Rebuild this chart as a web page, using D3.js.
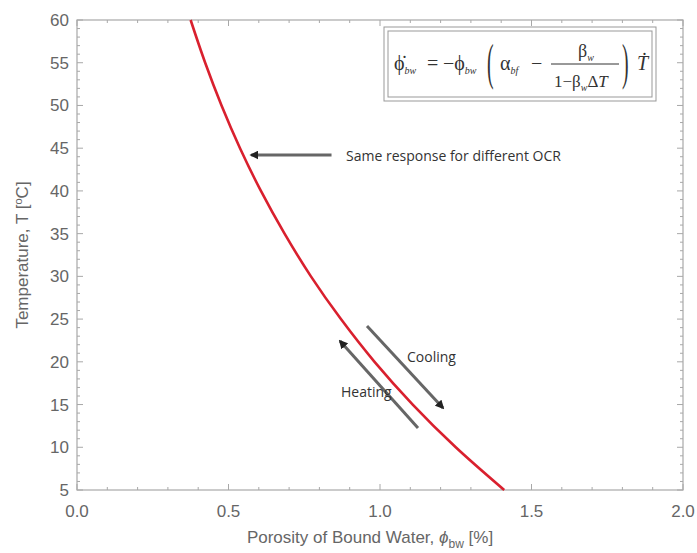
<!DOCTYPE html>
<html>
<head>
<meta charset="utf-8">
<script src="https://cdn.jsdelivr.net/npm/d3@7"></script>
<style>
  html, body { margin: 0; padding: 0; background: #fff; }
  svg { display: block; }
</style>
</head>
<body>
<svg id="chart" width="697" height="553"></svg>
<script>
// Bound-water porosity response to temperature
const temperature = [5, 10, 15, 20, 25, 30, 35, 40, 45, 50, 55, 60];
const porosity    = [1.41, 1.25, 1.108, 0.982, 0.871, 0.772, 0.685, 0.607, 0.538, 0.477, 0.423, 0.375];

const xTicks = [0, 0.5, 1.0, 1.5, 2.0];
const yTicks = [5, 10, 15, 20, 25, 30, 35, 40, 45, 50, 55, 60];

const svg = d3.select("#chart");
const margin = { left: 77, right: 14, top: 20, bottom: 63 };
const W = 697, H = 553;

const x = d3.scaleLinear().domain([0, 2]).range([margin.left, W - margin.right]);
const y = d3.scaleLinear().domain([5, 60]).range([H - margin.bottom, margin.top]);

const frameColor = "#a8a8a8";
const labelColor = "#666";
const font = "'Liberation Sans', Arial, sans-serif";

// frame
svg.append("rect")
  .attr("x", x(0)).attr("y", y(60))
  .attr("width", x(2) - x(0)).attr("height", y(5) - y(60))
  .attr("fill", "none").attr("stroke", frameColor).attr("stroke-width", 1.2);

// inward ticks on all four sides
const minorX = d3.range(0, 2.0001, 0.1);
const minorY = d3.range(5, 60.0001, 1);
const tickG = svg.append("g").attr("stroke", frameColor).attr("stroke-width", 1);
minorX.forEach(v => {
  const major = xTicks.some(t => Math.abs(t - v) < 1e-6);
  const len = major ? 6 : 3;
  tickG.append("line").attr("x1", x(v)).attr("x2", x(v)).attr("y1", y(5)).attr("y2", y(5) - len);
  tickG.append("line").attr("x1", x(v)).attr("x2", x(v)).attr("y1", y(60)).attr("y2", y(60) + len);
});
minorY.forEach(v => {
  const r = Math.round(v);
  const major = Math.abs(v - r) < 1e-6 && r % 5 === 0;
  const len = major ? 6 : 3;
  tickG.append("line").attr("y1", y(v)).attr("y2", y(v)).attr("x1", x(0)).attr("x2", x(0) + len);
  tickG.append("line").attr("y1", y(v)).attr("y2", y(v)).attr("x1", x(2)).attr("x2", x(2) - len);
});

// tick labels
svg.append("g").selectAll("text").data(xTicks).join("text")
  .attr("x", d => x(d)).attr("y", y(5) + 27)
  .attr("text-anchor", "middle")
  .attr("font-family", font).attr("font-size", 17).attr("fill", labelColor)
  .text(d => d.toFixed(1));

svg.append("g").selectAll("text").data(yTicks).join("text")
  .attr("x", x(0) - 8).attr("y", d => y(d) + 6)
  .attr("text-anchor", "end")
  .attr("font-family", font).attr("font-size", 17).attr("fill", labelColor)
  .text(d => d);

// axis titles
const xt = svg.append("text")
  .attr("x", (x(0) + x(2)) / 2 - 10).attr("y", 543)
  .attr("text-anchor", "middle")
  .attr("font-family", font).attr("font-size", 17).attr("fill", labelColor);
xt.append("tspan").text("Porosity of Bound Water, ");
xt.append("tspan").attr("font-style", "italic").text("ϕ");
xt.append("tspan").attr("font-size", 12).attr("dy", 5).text("bw");
xt.append("tspan").attr("dy", -5).text(" [%]");

const yt = svg.append("text")
  .attr("transform", `translate(28, ${(y(5) + y(60)) / 2}) rotate(-90)`)
  .attr("text-anchor", "middle")
  .attr("font-family", font).attr("font-size", 17).attr("fill", labelColor);
yt.append("tspan").text("Temperature, T [");
yt.append("tspan").attr("font-size", 11).attr("dy", -6).text("o");
yt.append("tspan").attr("dy", 6).text("C]");

// response curve
const pts = temperature.map((t, i) => ({ t, p: porosity[i] }));
svg.append("path")
  .datum(pts)
  .attr("fill", "none")
  .attr("stroke", "#d9202e")
  .attr("stroke-width", 2.6)
  .attr("d", d3.line().x(d => x(d.p)).y(d => y(d.t)).curve(d3.curveCatmullRom));

// arrow markers
const defs = svg.append("defs");
defs.append("marker")
  .attr("id", "head").attr("viewBox", "0 0 10 10")
  .attr("refX", 8).attr("refY", 5)
  .attr("markerWidth", 3).attr("markerHeight", 3)
  .attr("orient", "auto")
  .append("path").attr("d", "M0,0 L10,5 L0,10 z").attr("fill", "#222");

function arrow(x1, y1, x2, y2) {
  svg.append("line")
    .attr("x1", x1).attr("y1", y1).attr("x2", x2).attr("y2", y2)
    .attr("stroke", "#666").attr("stroke-width", 3)
    .attr("marker-end", "url(#head)");
}

const noteFont = "'Open Sans', Lato, sans-serif";

// annotation: same response
arrow(x(0.84), y(44.2), x(0.575), y(44.2));
svg.append("text")
  .attr("x", 346).attr("y", 161)
  .attr("font-family", noteFont).attr("font-size", 14).attr("fill", "#333")
  .text("Same response for different OCR");

// cooling / heating arrows
arrow(367, 326, 443, 408);
arrow(418, 428, 340, 341);
svg.append("text")
  .attr("x", 407).attr("y", 362)
  .attr("font-family", noteFont).attr("font-size", 14).attr("fill", "#333")
  .text("Cooling");
svg.append("text")
  .attr("x", 341).attr("y", 397)
  .attr("font-family", noteFont).attr("font-size", 14).attr("fill", "#333")
  .text("Heating");

// governing relation in a double-ruled box
const bx = 384, by = 27, bw = 272, bh = 74;
svg.append("rect").attr("x", bx).attr("y", by).attr("width", bw).attr("height", bh)
  .attr("fill", "#fff").attr("stroke", "#999").attr("stroke-width", 1);
svg.append("rect").attr("x", bx + 4).attr("y", by + 4).attr("width", bw - 8).attr("height", bh - 8)
  .attr("fill", "none").attr("stroke", "#999").attr("stroke-width", 1);

const serif = "'Liberation Serif', 'DejaVu Serif', serif";
const eq = svg.append("g").attr("font-family", serif).attr("fill", "#333");
const midY = by + bh / 2 + 6;

function sym(xp, yp, main, sub, size) {
  const t = eq.append("text").attr("x", xp).attr("y", yp).attr("font-size", size || 20);
  t.append("tspan").text(main);
  if (sub) t.append("tspan").attr("font-size", 10).attr("dy", 4).attr("font-style", "italic").text(sub);
  return t;
}

function paren(xp, ch) {
  eq.append("text")
    .attr("transform", `translate(${xp}, ${midY + 9}) scale(0.9, 2.3)`)
    .attr("font-size", 22).attr("font-weight", 300).text(ch);
}

sym(394, midY, "ϕ̇", "bw");
eq.append("text").attr("x", 427).attr("y", midY).attr("font-size", 20).text("=");
sym(443, midY, "−ϕ", "bw");
paren(487, "(");
sym(500, midY, "α", "bf");
eq.append("text").attr("x", 531).attr("y", midY).attr("font-size", 20).text("−");
// fraction
eq.append("line").attr("x1", 551).attr("x2", 619).attr("y1", midY - 6).attr("y2", midY - 6)
  .attr("stroke", "#333").attr("stroke-width", 1);
sym(578, midY - 13, "β", "w", 18);
const den = eq.append("text").attr("x", 554).attr("y", midY + 17).attr("font-size", 17);
den.append("tspan").text("1−β");
den.append("tspan").attr("font-size", 10).attr("dy", 4).attr("font-style", "italic").text("w");
den.append("tspan").attr("dy", -4).text("Δ");
den.append("tspan").attr("font-style", "italic").text("T");
paren(622, ")");
eq.append("text").attr("x", 637).attr("y", midY).attr("font-size", 20)
  .attr("font-style", "italic").text("Ṫ");
</script>
</body>
</html>
